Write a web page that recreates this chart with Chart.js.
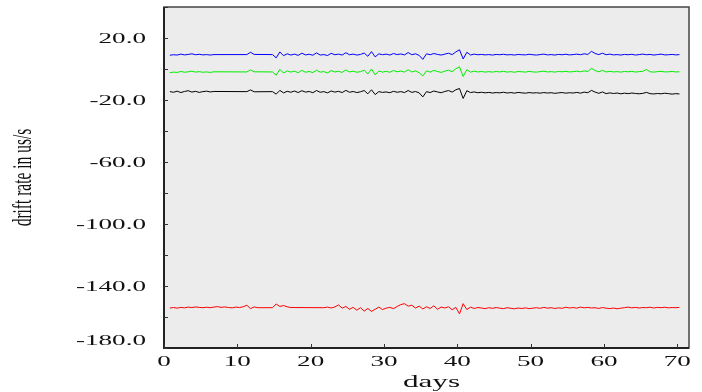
<!DOCTYPE html>
<html>
<head>
<meta charset="utf-8">
<script src="https://cdn.jsdelivr.net/npm/chart.js@4.4.1/dist/chart.umd.min.js"></script>
<style>
  body { margin: 0; background: #fff; }
  canvas { display: block; }
</style>
</head>
<body>
<canvas id="myChart" width="702" height="392"></canvas>
<script>
// days (x values), one sample every half day
const days = [
  0.8, 1.3, 1.8, 2.3, 2.8, 3.3, 3.8, 4.3, 4.8, 5.3,
  5.8, 6.3, 6.8, 7.3, 7.8, 8.3, 8.8, 9.3, 9.8, 10.3,
  10.8, 11.3, 11.8, 12.3, 12.8, 13.3, 13.8, 14.3, 14.8, 15.3,
  15.8, 16.3, 16.8, 17.3, 17.8, 18.3, 18.8, 19.3, 19.8, 20.3,
  20.8, 21.3, 21.8, 22.3, 22.8, 23.3, 23.8, 24.3, 24.8, 25.3,
  25.8, 26.3, 26.8, 27.3, 27.8, 28.3, 28.8, 29.3, 29.8, 30.3,
  30.8, 31.3, 31.8, 32.3, 32.8, 33.3, 33.8, 34.3, 34.8, 35.3,
  35.8, 36.3, 36.8, 37.3, 37.8, 38.3, 38.8, 39.3, 39.8, 40.3,
  40.8, 41.3, 41.8, 42.3, 42.8, 43.3, 43.8, 44.3, 44.8, 45.3,
  45.8, 46.3, 46.8, 47.3, 47.8, 48.3, 48.8, 49.3, 49.8, 50.3,
  50.8, 51.3, 51.8, 52.3, 52.8, 53.3, 53.8, 54.3, 54.8, 55.3,
  55.8, 56.3, 56.8, 57.3, 57.8, 58.3, 58.8, 59.3, 59.8, 60.3,
  60.8, 61.3, 61.8, 62.3, 62.8, 63.3, 63.8, 64.3, 64.8, 65.3,
  65.8, 66.3, 66.8, 67.3, 67.8, 68.3, 68.8, 69.3, 69.8, 70.3
];

// null = no data (line is drawn straight across the gap)
const blueRate = [
  8.9, 9.2, 9.0, 9.6, 9.1, 9.4, 9.8, 9.2, 9.5, 9.1,
  9.3, 9.0, 9.3, null, null, null, null, null, null, null,
  null, 9.3, 10.8, 9.4, null, null, null, null, 9.3, 7.2,
  11.0, 8.6, 9.8, 9.0, 9.6, 8.8, 10.2, 9.1, 9.5, 8.9,
  10.4, 9.0, 9.3, 8.7, 10.1, 9.2, 9.6, 9.0, 10.5, 9.2,
  9.6, 9.0, 9.4, 10.3, 8.2, 11.2, 7.8, 9.8, 9.2, 9.6,
  9.0, 10.0, 9.3, 9.7, 9.1, 10.6, 9.2, 9.8, 8.8, 6.2,
  9.8, 9.2, 10.0, 9.4, 9.0, 9.6, 10.2, 9.3, 11.0, 12.4,
  6.5, 10.8, 9.0, 9.6, 9.2, 9.4, 9.1, 9.3, 9.0, 9.4,
  9.2, 9.5, 9.1, 9.3, 9.0, 9.4, 9.2, 9.1, 9.5, 9.2,
  9.0, 9.3, 9.6, 9.1, 9.3, 9.0, 9.4, 9.2, 9.5, 9.1,
  9.3, 9.6, 9.2, 9.8, 9.4, 11.4, 10.0, 9.3, 10.2, 9.2,
  9.6, 9.1, 9.3, 9.0, 9.4, 9.2, 9.5, 9.0, 9.3, 9.6,
  9.2, 9.4, 9.0, 9.3, 9.6, 9.1, 9.2, 9.4, 9.1, 9.3
];

const greenRate = [
  -2.4, -2.0, -2.2, -1.6, -2.1, -1.8, -1.4, -2.0, -1.7, -2.1,
  -1.9, -2.2, -1.8, null, null, null, null, null, null, null,
  null, -1.9, -0.6, -1.8, null, null, null, null, -1.9, -4.0,
  -0.2, -2.6, -1.2, -2.0, -1.4, -2.4, -0.9, -2.1, -1.6, -2.3,
  -0.8, -2.0, -1.7, -2.5, -1.0, -1.9, -1.5, -2.2, -0.6, -1.9,
  -1.4, -2.1, -1.7, -0.8, -3.2, 0.0, -3.8, -1.3, -2.0, -1.5,
  -2.1, -1.0, -1.8, -1.3, -2.0, -0.5, -1.9, -1.2, -2.4, -4.5,
  -1.2, -2.0, -0.9, -1.6, -2.2, -1.4, -0.8, -1.7, 0.2, 1.4,
  -4.8, -0.4, -2.0, -1.4, -1.9, -1.6, -2.0, -1.7, -2.0, -1.6,
  -1.9, -1.5, -2.0, -1.7, -2.1, -1.6, -1.8, -2.0, -1.5, -1.9,
  -2.0, -1.7, -1.4, -1.9, -1.7, -2.0, -1.6, -1.8, -1.5, -1.9,
  -1.7, -1.4, -1.8, -1.2, -1.6, 0.4, -1.0, -1.8, -0.9, -1.9,
  -1.5, -1.9, -1.7, -2.0, -1.6, -1.8, -1.5, -2.0, -1.7, -1.5,
  -0.3, -1.8, -2.0, -1.7, -1.5, -1.9, -1.8, -1.6, -1.9, -1.8
];

const blackRate = [
  -14.6, -15.0, -14.3, -15.2, -14.5, -14.0, -14.9, -14.4, -15.1, -14.6,
  -14.3, -14.8, -14.5, null, null, null, null, null, null, null,
  null, -14.6, -13.5, -14.7, null, null, null, null, -14.6, -16.2,
  -13.8, -15.4, -14.4, -15.0, -14.2, -15.2, -14.0, -14.9, -14.5, -15.3,
  -13.9, -15.0, -14.6, -15.4, -14.2, -14.9, -14.4, -15.2, -13.8, -15.0,
  -14.5, -15.2, -14.7, -13.9, -16.0, -13.4, -16.5, -14.6, -15.1, -14.8,
  -15.3, -14.4, -15.0, -14.6, -15.2, -13.9, -15.1, -14.5, -15.4, -18.0,
  -14.6, -15.2, -14.2, -14.8, -15.3, -14.5, -13.9, -14.9, -13.4, -12.6,
  -19.0, -14.0, -15.2, -14.8, -15.3, -15.0, -15.4, -15.1, -15.5, -15.2,
  -15.4, -15.0, -15.5, -15.2, -15.6, -15.1, -15.4, -15.6, -15.2, -15.5,
  -15.3, -15.6, -15.2, -15.5, -15.3, -15.7, -15.4, -15.2, -15.6, -15.3,
  -15.5, -15.1, -15.6, -14.9, -15.3, -13.8, -14.9, -15.7, -14.8, -15.9,
  -15.4, -15.8, -15.5, -16.0, -15.6, -15.9, -15.5, -15.8, -16.0, -15.7,
  -15.1, -15.9, -16.1, -15.8, -16.0, -15.6, -15.9, -16.2, -15.9, -16.1
];

const redRate = [
  -154.2, -153.9, -154.3, -153.8, -154.1, -153.6, -153.9, -153.5, -153.8, -154.0,
  -153.7, -154.0, -153.6, -153.3, -153.8, -153.5, -153.9, -154.1, -153.6, -153.9,
  -153.4, -152.4, -154.6, -153.5, -154.0, null, null, null, -154.0, -151.6,
  -153.2, -152.6, -153.4, -153.9, null, null, null, null, null, null,
  null, null, -154.0, -153.6, -154.2, -153.5, -152.2, -154.3, -153.2, -155.0,
  -153.8, -155.6, -154.0, -156.2, -154.5, -156.4, -155.0, -153.6, -155.2, -154.3,
  -153.8, -154.6, -153.2, -152.0, -151.4, -153.0, -152.4, -154.2, -153.0, -154.8,
  -153.4, -154.5, -152.8, -155.0, -153.6, -154.2, -153.4, -155.3, -153.8, -158.0,
  -151.4, -155.2, -153.6, -154.5, -153.9, -154.2, -154.6, -154.0, -154.4, -153.9,
  -154.3, -154.6, -154.0, -154.4, -154.7, -154.2, -154.5, -154.1, -154.6, -154.3,
  -154.0, -154.4, -153.8, -154.3, -154.0, -154.5, -154.1, -154.4, -153.7, -154.2,
  -153.9, -154.3, -153.6, -154.1, -153.8, -154.2, -154.0, -154.5, -153.9, -154.3,
  -154.6, -154.2, -154.7, -154.3, -154.0, -153.6, -154.1, -153.8, -154.2, -153.9,
  -154.0, -153.7, -154.2, -153.8, -154.0, -153.7, -154.1, -153.9, -154.0, -153.8
];

const yLabelValues = [20, -20, -60, -100, -140, -180];
const xLabelValues = [0, 10, 20, 30, 40, 50, 60, 70];
const xTitle = 'days';
const yTitle = 'drift rate in us/s';

function points(values) {
  return days.map((d, i) => ({ x: d, y: values[i] }));
}

function serie(values, color) {
  return {
    data: points(values),
    borderColor: color,
    backgroundColor: color,
    borderWidth: 1,
    pointRadius: 0,
    showLine: true,
    spanGaps: true,
    tension: 0
  };
}

// everything around the plot is drawn here (the look is a horizontally stretched plot)
const framePlugin = {
  id: 'frame',
  beforeDatasetsDraw(chart) {
    const ctx = chart.ctx;
    const a = chart.chartArea;
    ctx.save();
    ctx.fillStyle = '#ececec';
    ctx.fillRect(a.left, a.top, a.right - a.left, a.bottom - a.top);
    ctx.restore();
  },
  afterDraw(chart) {
    const ctx = chart.ctx;
    const a = chart.chartArea;
    const xs = chart.scales.x;
    const ys = chart.scales.y;
    ctx.save();

    // box
    ctx.strokeStyle = '#444';
    ctx.lineWidth = 1.5;
    ctx.strokeRect(a.left, a.top, a.right - a.left, a.bottom - a.top);
    ctx.strokeStyle = '#222';
    ctx.lineWidth = 2;
    ctx.beginPath();
    ctx.moveTo(a.left, a.top);
    ctx.lineTo(a.left, a.bottom);
    ctx.lineTo(a.right, a.bottom);
    ctx.stroke();

    // inward tick marks
    ctx.lineWidth = 1;
    ctx.strokeStyle = '#333';
    ctx.beginPath();
    ys.ticks.forEach(t => {
      const y = Math.round(ys.getPixelForValue(t.value)) + 0.5;
      ctx.moveTo(a.left, y);
      ctx.lineTo(a.left + 4, y);
    });
    xs.ticks.forEach(t => {
      if (t.value % 10 !== 0) return;
      const x = Math.round(xs.getPixelForValue(t.value)) + 0.5;
      ctx.moveTo(x, a.bottom);
      ctx.lineTo(x, a.bottom - 4);
    });
    ctx.stroke();

    // tick labels
    ctx.fillStyle = '#111';
    ctx.font = '15.5px "Liberation Serif"';
    ctx.textBaseline = 'alphabetic';
    yLabelValues.forEach(v => {
      let y = ys.getPixelForValue(v) + 5;
      if (v === -180) y -= 8;
      ctx.save();
      ctx.translate(146, y);
      ctx.scale(1.75, 1);
      ctx.textAlign = 'right';
      ctx.fillText(v.toFixed(1), 0, 0);
      ctx.restore();
    });
    xLabelValues.forEach(v => {
      const x = xs.getPixelForValue(v);
      ctx.save();
      ctx.translate(x, 366);
      ctx.scale(1.75, 1);
      ctx.textAlign = 'center';
      ctx.fillText(String(v), 0, 0);
      ctx.restore();
    });

    // axis titles
    ctx.save();
    ctx.font = '16px "Liberation Serif"';
    ctx.translate((a.left + a.right) / 2 + 5, 387);
    ctx.scale(1.95, 1);
    ctx.textAlign = 'center';
    ctx.fillText(xTitle, 0, 0);
    ctx.restore();

    ctx.save();
    ctx.font = '15.5px "Liberation Serif"';
    ctx.translate(31, (a.top + a.bottom) / 2);
    ctx.rotate(-Math.PI / 2);
    ctx.scale(1, 1.75);
    ctx.textAlign = 'center';
    ctx.fillText(yTitle, 0, 0);
    ctx.restore();

    ctx.restore();
  }
};

const ctx = document.getElementById('myChart').getContext('2d');
const myChart = new Chart(ctx, {
  type: 'scatter',
  data: {
    datasets: [
      serie(blueRate, '#0000ff'),
      serie(greenRate, '#00ee00'),
      serie(blackRate, '#000000'),
      serie(redRate, '#ff0000')
    ]
  },
  options: {
    responsive: false,
    animation: false,
    layout: { padding: { left: 164, right: 13, top: 7, bottom: 44 } },
    plugins: {
      legend: { display: false },
      tooltip: { enabled: false }
    },
    scales: {
      x: {
        type: 'linear',
        display: false,
        min: 0,
        max: 71.6,
        ticks: { stepSize: 10, includeBounds: false }
      },
      y: {
        type: 'linear',
        display: false,
        min: -180,
        max: 40,
        ticks: { stepSize: 20, includeBounds: false }
      }
    }
  },
  plugins: [framePlugin]
});
</script>
</body>
</html>
